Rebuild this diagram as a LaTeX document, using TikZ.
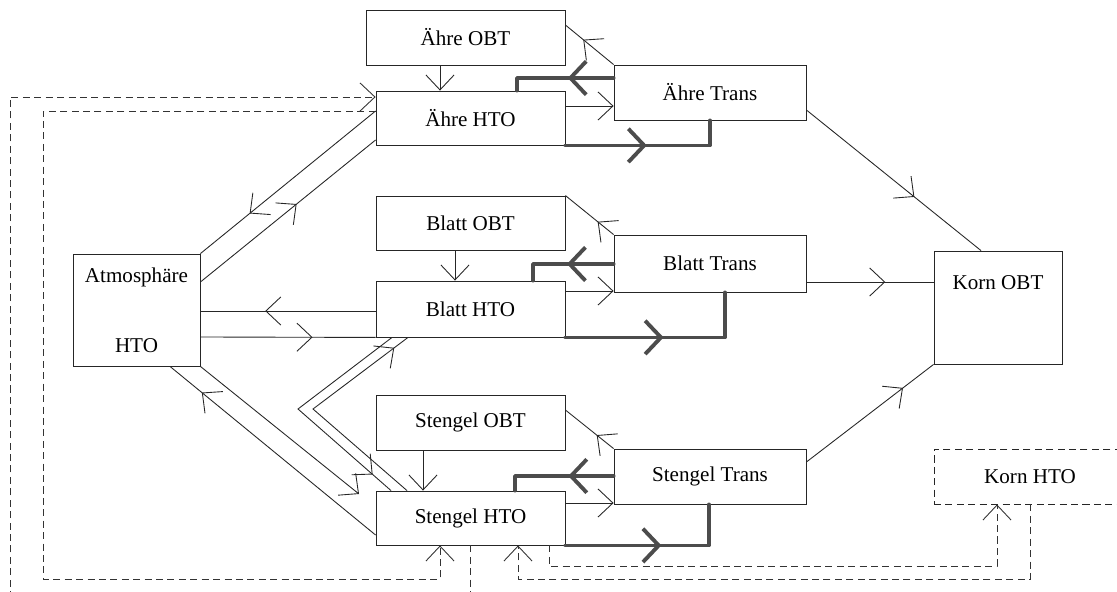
\documentclass[tikz,border=0pt]{standalone}
\usepackage{fontspec}
\setmainfont{Liberation Serif}
\usetikzlibrary{arrows.meta,decorations.markings}

\begin{document}
\begin{tikzpicture}[x=0.02cm, y=-0.02cm,
    font=\fontsize{12}{14}\selectfont,
    openV/.tip={Straight Barb[length=8.5pt,width=16pt]},
    bigV/.tip={Straight Barb[length=9pt,width=19pt]},
    box/.style={draw=black!85, line width=0.5pt, rectangle, inner sep=0pt},
    dashbox/.style={box, dash pattern=on 4pt off 2.5pt},
    flow/.style={draw=black!85, line width=0.5pt},
    heavy/.style={draw=black!70, line width=2.2pt, line cap=round, line join=round},
    loop/.style={draw=black!80, line width=0.5pt, dash pattern=on 4pt off 2.5pt},
    mid/.style={postaction={decorate}, decoration={markings, mark=at position #1 with {\arrow{openV}}}},
    bigmid/.style={postaction={decorate}, decoration={markings, mark=at position #1 with {\arrow{bigV}}}}]
    \useasboundingbox (0,0) rectangle (1117,592);

    % Ähre
    \node[box, minimum width=3.98cm, minimum height=1.10cm] (AOBT) at (465.5,37.5) {Ähre OBT};
    \node[box, minimum width=3.78cm, minimum height=1.08cm] (AHTO) at (470.5,118) {Ähre HTO};
    \node[box, minimum width=3.84cm, minimum height=1.10cm] (ATrans) at (710,92.5) {Ähre Trans};

    % Blatt
    \node[box, minimum width=3.78cm, minimum height=1.08cm] (BOBT) at (470.5,223) {Blatt OBT};
    \node[box, minimum width=3.78cm, minimum height=1.12cm] (BHTO) at (470.5,309) {Blatt HTO};
    \node[box, minimum width=3.84cm, minimum height=1.14cm] (BTrans) at (710,263.5) {Blatt Trans};

    % Stengel
    \node[box, minimum width=3.78cm, minimum height=1.10cm] (SOBT) at (470.5,422.5) {Stengel OBT};
    \node[box, minimum width=3.78cm, minimum height=1.08cm] (SHTO) at (470.5,518) {Stengel HTO};
    \node[box, minimum width=3.84cm, minimum height=1.10cm] (STrans) at (710,476.5) {Stengel Trans};

    % Atmosphere and grain
    \node[box, align=center, minimum width=2.54cm, minimum height=2.24cm] (Atm) at (136.5,310) {Atmosphäre\\[26pt]HTO};
    \node[box, minimum width=2.56cm, minimum height=2.26cm,
        label={[anchor=north, yshift=-0.38cm]north:Korn OBT}] (KOBT) at (998,307.5) {};
    \node[dashbox, minimum width=3.84cm, minimum height=1.10cm] (KHTO) at (1030,476.5) {Korn HTO};

    % OBT -> HTO
    \draw[flow, -{openV}] (AOBT.south -| 440,0) -- (AHTO.north -| 440,0);
    \draw[flow, -{openV}] (BOBT.south -| 455,0) -- (BHTO.north -| 455,0);
    \draw[flow, -{openV}] (SOBT.south -| 423,0) -- (SHTO.north -| 423,0);

    % Trans -> OBT
    \draw[flow, mid=0.63] (ATrans.north west) -- (AOBT.east |- 0,25);
    \draw[flow, mid=0.33] (BTrans.north west) -- (BOBT.north east);
    \draw[flow, mid=0.35] (STrans.north west) -- (SOBT.east |- 0,410);

    % HTO -> Trans
    \draw[flow, -{openV}] (AHTO.east |- 0,106) -- (ATrans.west |- 0,106);
    \draw[flow, -{openV}] (BHTO.east |- 0,291) -- (BTrans.west |- 0,291);
    \draw[flow, -{openV}] (SHTO.east |- 0,503) -- (STrans.west |- 0,503);

    % heavy loops HTO <-> Trans
    \draw[heavy, bigmid=0.42] (ATrans.west |- 0,78) -| (AHTO.north -| 517,0);
    \draw[heavy, bigmid=0.48] (AHTO.south east) -| (ATrans.south -| 710,0);
    \draw[heavy, bigmid=0.48] (BTrans.west |- 0,264) -| (BHTO.north -| 533,0);
    \draw[heavy, bigmid=0.48] (BHTO.south east) -| (BTrans.south -| 725,0);
    \draw[heavy, bigmid=0.40] (STrans.west |- 0,476) -| (SHTO.north -| 515,0);
    \draw[heavy, bigmid=0.52] (SHTO.south east) -| (STrans.south -| 709,0);

    % Trans -> Korn OBT
    \draw[flow, mid=0.62] (ATrans.east |- 0,110) -- (KOBT.north -| 981,0);
    \draw[flow, mid=0.62] (BTrans.east |- 0,282) -- (KOBT.west |- 0,282);
    \draw[flow, mid=0.76] (STrans.east |- 0,462) -- (KOBT.south west);

    % Atmosphere <-> HTO
    \draw[flow, mid=0.72] (AHTO.west |- 0,111) -- (Atm.north east);
    \draw[flow, mid=0.55] (Atm.east |- 0,282) -- (AHTO.west |- 0,140);
    \draw[flow, mid=0.63] (BHTO.west |- 0,311) -- (Atm.east |- 0,311);
    \draw[flow, mid=0.64] (Atm.east |- 0,337) -- (BHTO.south west);
    \draw[flow, mid=0.845] (SHTO.west |- 0,535) -- (Atm.south -| 170,0);
    \coordinate (atmtip) at (359,494);
    \draw[flow, -{openV}] (Atm.south east) -- (atmtip);

    % Blatt <-> Stengel
    \coordinate (bendout) at (298,409);
    \coordinate (bendin) at (313,409);
    \draw[flow, mid=0.90] (BHTO.south -| 392,0) -- (bendout) -- (SHTO.north -| 391,0);
    \draw[flow, mid=0.93] (SHTO.north -| 407,0) -- (bendin) -- (BHTO.south -| 408,0);

    % dashed loops
    \draw[loop, -{openV}] (AHTO.west |- 0,111) -| (43,579) -| (SHTO.south -| 440,0);
    \draw[loop, -{openV}] (SHTO.south -| 470,0) -- (470,593) -| (10,97) -- (AHTO.west |- 0,97);
    \draw[loop, -{openV}] (SHTO.south -| 549,0) |- (997,566) -- (KHTO.south -| 997,0);
    \draw[loop, -{openV}] (KHTO.south -| 1030,0) |- (518,579) -- (SHTO.south -| 518,0);
\end{tikzpicture}
\end{document}
